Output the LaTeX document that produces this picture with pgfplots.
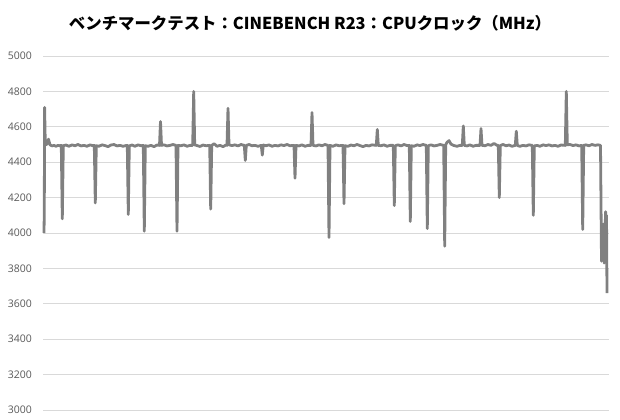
\documentclass[border=0pt]{standalone}
\usepackage{fontspec}
\setmainfont{Open Sans}
\newfontfamily\jp{Noto Sans CJK JP}
\usepackage{pgfplots}
\pgfplotsset{compat=1.18}
\usepackage{pgfplotstable}

\definecolor{linegray}{HTML}{808080}
\definecolor{gridgray}{HTML}{D9D9D9}
\definecolor{labelgray}{HTML}{595959}

% CPU clock, x = sample position, y = MHz
\pgfplotstableread{
x y
44 4000
44.3 4130
44.6 4710
45.3 4498
47 4502
48.5 4530
50 4498
52 4492
54 4495
56 4490
58 4495
60 4493
61.3 4495
62.3 4080
63.3 4493
66 4497
69 4490
72 4498
75 4493
78 4500
81 4492
84 4495
87 4490
90 4498
93 4493
94.3 4495
95.3 4170
96.3 4493
99 4490
102 4498
105 4494
108 4488
111 4497
114 4500
117 4492
120 4495
123 4490
126 4494
127.3 4495
128.3 4105
129.3 4492
132 4497
135 4490
138 4498
141 4493
143.3 4495
144.3 4010
145.3 4493
148 4490
151 4495
154 4488
157 4497
159.5 4495
160.5 4630
161.5 4495
164 4498
167 4492
170 4495
173 4500
176 4495
177 4010
178 4495
181 4493
184 4498
187 4490
190 4495
192.7 4495
193.7 4800
194.7 4498
197 4494
200 4489
203 4497
206 4493
209.7 4495
210.7 4135
211.7 4494
214 4505
217 4490
220 4495
223 4488
226 4497
227 4495
228 4705
229 4498
232 4494
235 4498
238 4492
241 4500
244.3 4495
245.3 4410
246.3 4495
249 4500
252 4493
255 4495
258 4490
261.3 4495
262.3 4440
263.3 4497
266 4493
269 4498
272 4490
275 4495
278 4492
281 4498
284 4494
287 4500
290 4493
294 4495
295 4310
296 4495
299 4492
302 4498
305 4490
308 4495
311 4495
312 4680
313 4495
316 4492
319 4498
322 4493
325 4500
328 4495
329 3975
330 4495
333 4490
336 4498
339 4493
343 4495
344 4165
345 4493
348 4490
351 4497
354 4493
357 4500
360 4494
363 4488
366 4495
369 4492
372 4498
376.3 4495
377.3 4585
378.3 4495
381 4493
384 4498
387 4490
390 4495
393.3 4495
394.3 4155
395.3 4493
398 4498
401 4492
404 4500
407 4494
409.3 4495
410.3 4065
411.3 4493
414 4490
417 4498
420 4494
423 4500
426.3 4495
427.3 4025
428.3 4493
431 4498
434 4492
437 4495
440 4500
443.7 4495
444.7 3925
445.7 4498
447 4512
449 4522
451 4502
454 4494
457 4490
460 4495
462.3 4495
463.3 4605
464.3 4495
467 4492
470 4498
473 4490
476 4495
480 4495
481 4590
482 4495
485 4493
488 4500
491 4495
494 4506
497 4495
498.3 4495
499.3 4200
500.3 4494
503 4500
506 4493
509 4497
512 4490
515.3 4495
516.3 4575
517.3 4494
520 4490
523 4495
526 4492
529 4498
532.3 4495
533.3 4100
534.3 4492
537 4495
540 4490
543 4498
546 4494
549 4498
552 4492
555 4495
558 4490
561 4497
565.3 4495
566.3 4800
567.3 4498
570 4500
573 4494
576 4498
579 4492
581.7 4495
582.7 4020
583.7 4495
586 4498
589 4493
592 4500
595 4495
598 4498
600.5 4495
601.5 3840
602.2 4000
602.8 3850
603.5 4050
604.2 3830
605 4000
605.6 4120
606.1 3900
606.5 4100
607 3660
}\clockdata

\begin{document}
\begin{tikzpicture}
\useasboundingbox (0,0) rectangle (620bp,420bp);
\begin{axis}[
    at={(43bp,10bp)}, anchor=south west,
    scale only axis,
    width=566bp, height=354bp,
    xmin=43, xmax=609,
    ymin=3000, ymax=5000,
    ytick={3000,3200,...,5000},
    xtick=\empty,
    axis line style={draw=none},
    major tick length=0pt,
    ymajorgrids,
    grid style={gridgray, line width=0.8bp},
    scaled y ticks=false,
    /pgf/number format/assume math mode=true,
    /pgf/number format/1000 sep={},
    yticklabel style={font=\fontsize{10.5bp}{12bp}\selectfont, text=labelgray,
        anchor=east, inner sep=0pt, xshift=-11bp},
    clip=false,
]
\addplot[linegray, line width=2.8bp, line join=round, mark=none] table[x=x, y=y] {\clockdata};
\end{axis}
\node[font=\jp\bfseries\fontsize{16.4bp}{18bp}\selectfont, text=black] at (310bp,397bp)
    {ベンチマークテスト：CINEBENCH R23：CPUクロック（MHz）};
\end{tikzpicture}
\end{document}
